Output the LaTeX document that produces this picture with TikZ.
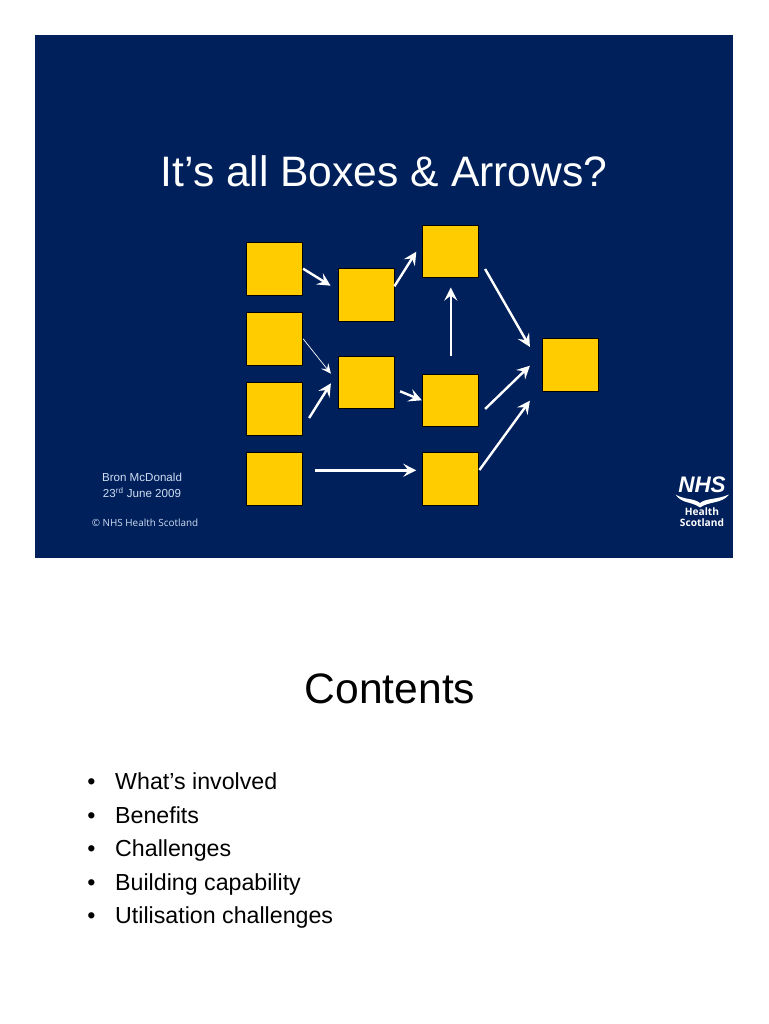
\documentclass[tikz,border=0pt]{standalone}
\usepackage{fontspec}
\setmainfont{Liberation Sans}
\newfontfamily\logofont{Open Sans}
\usetikzlibrary{arrows.meta}
\definecolor{navy}{HTML}{00205B}
\definecolor{boxyellow}{HTML}{FFCC00}
\definecolor{paletext}{HTML}{CFDCF2}
\tikzset{
  boxnode/.style={draw=black,line width=0.8pt,fill=boxyellow,minimum width=56pt,minimum height=52.6pt,inner sep=0pt},
  flow/.style={draw=white,line width=2.4pt,-{Stealth[length=13pt,width=13pt,inset=5pt]}},
  textnode/.style={anchor=base,inner sep=0pt},
}
\begin{document}
\begin{tikzpicture}[x=1pt,y=-1pt]
  \useasboundingbox (0,0) rectangle (768,1024);
  \fill[white] (0,0) rectangle (768,1024);
  \fill[navy] (35,35) rectangle (733,558);
  \node[textnode,text=white,font=\fontsize{42.6}{46}\selectfont] (title) at (384,186.5) {It’s all Boxes \& Arrows?};
  \foreach \name/\x/\y in {a1/274.7/268.7,a2/274.7/338.8,a3/274.7/408.8,a4/274.7/479,
                           b1/366/295,b2/366/382.5,
                           c1/450.8/251.3,c2/450.8/400.3,c3/450.8/479,d/570.2/365} {
    \node[boxnode] (\name) at (\x,\y) {};
  }
  \draw[flow] (a1.east) -- ([shift={(-7,-9.3)}]b1.west);
  \draw[flow,line width=0.7pt,-{Stealth[length=10pt,width=9pt,inset=4pt]}] (a2.east) -- ([shift={(-6.7,-8.8)}]b2.west);
  \draw[flow] ([shift={(6,9.2)}]a3.east) -- ([shift={(-6.7,0.8)}]b2.west);
  \draw[flow] ([shift={(12,-8.7)}]a4.east) -- ([shift={(-6.1,-8.7)}]c3.west);
  \draw[flow] ([shift={(0,-8.7)}]b1.east) -- ([shift={(-6.1,0.4)}]c1.west);
  \draw[flow] ([shift={(5.7,8.8)}]b2.east) -- ([shift={(-0.5,0)}]c2.west);
  \draw[flow] ([shift={(0,-17.3)}]c2.north) -- ([shift={(0,9.6)}]c1.south);
  \draw[flow] ([shift={(5.9,17.7)}]c1.east) -- ([shift={(-11.9,-18)}]d.west);
  \draw[flow] ([shift={(5.9,8.7)}]c2.east) -- ([shift={(-11.9,0.7)}]d.west);
  \draw[flow] ([shift={(0.2,-9)}]c3.east) -- ([shift={(-11.9,35.7)}]d.west);
  % footer text
  \node[textnode,text=paletext,font=\fontsize{11.6}{14}\selectfont] (author) at (142,481.5) {Bron McDonald};
  \node[textnode,text=paletext,font=\fontsize{11.6}{14}\selectfont] (date) at (142,497.5) {23\textsuperscript{rd} June 2009};
  \node[textnode,text=paletext,font=\logofont\fontsize{9.9}{13}\selectfont] (copy) at (145,526) {© NHS Health Scotland};
  % logo
  \node[textnode,text=white,font=\bfseries\itshape\fontsize{22.5}{24}\selectfont] (nhs) at (702,492.5) {NHS};
  \fill[white] (675.5,494.5) .. controls (684,500) and (694,498) .. (700,503)
    .. controls (706,498) and (716,500) .. (729,494.5)
    .. controls (722,504) and (709,501) .. (700,507.5)
    .. controls (691,501) and (682,504) .. (675.5,494.5) -- cycle;
  \node[textnode,text=white,font=\logofont\bfseries\fontsize{10.2}{12}\selectfont] (health) at (702,515) {Health};
  \node[textnode,text=white,font=\logofont\bfseries\fontsize{10.2}{12}\selectfont] (scotland) at (702,526.5) {Scotland};
  % second slide
  \node[textnode,font=\fontsize{42.6}{46}\selectfont] (contents) at (390,703) {Contents};
  \foreach \n/\y/\t in {1/789/What’s involved,2/823/Benefits,3/856/Challenges,4/890/Building capability,5/923/Utilisation challenges} {
    \node[textnode,font=\fontsize{23.2}{26}\selectfont] (bullet\n) at (91.5,\y) {•};
    \node[textnode,anchor=base west,font=\fontsize{23.2}{26}\selectfont] (item\n) at (115,\y) {\t};
  }
\end{tikzpicture}
\end{document}
